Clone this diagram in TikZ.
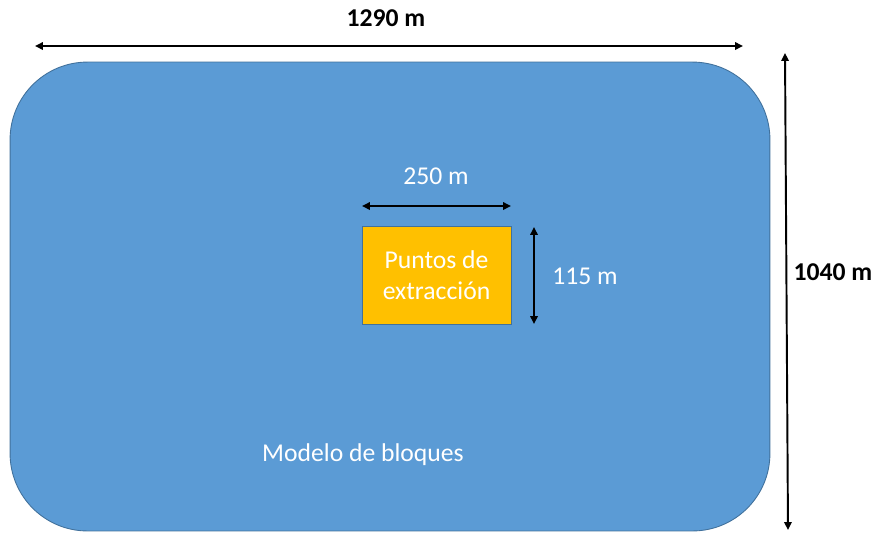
\documentclass[tikz,border=0pt]{standalone}
\usepackage{fontspec}
\setmainfont{Carlito}
\usetikzlibrary{positioning,arrows.meta}
\definecolor{modelblue}{RGB}{91,155,213}
\definecolor{modeledge}{RGB}{65,113,156}
\definecolor{puntosorange}{RGB}{255,192,0}

\begin{document}
\begin{tikzpicture}[
    x=0.02cm, y=-0.02cm,
    modelbox/.style={rectangle, rounded corners=1.55cm, fill=modelblue, draw=modeledge, line width=0.5pt, minimum width=15.2cm, minimum height=9.38cm},
    puntosbox/.style={rectangle, fill=puntosorange, draw=modeledge, line width=0.4pt, minimum width=2.98cm, minimum height=1.96cm, align=center, text=white, font=\fontsize{14.6}{17.8}\selectfont},
    dimline/.style={{Triangle[length=4.5pt,width=4.2pt]}-{Triangle[length=4.5pt,width=4.2pt]}, line width=1.1pt, black},
    label/.style={font=\fontsize{14.6}{17.5}\selectfont},
    biglabel/.style={font=\fontsize{14.6}{17.5}\selectfont\bfseries}
]
\useasboundingbox (0,0) rectangle (875,532);

% Block model and extraction area
\node[modelbox] (modelo) at (390,296.5) {};
\node[puntosbox] (puntos) at (436.5,275) {Puntos de\\extracción};
\node[label, text=white] (modelotxt) at (363,455) {Modelo de bloques};

% Outer dimensions
\coordinate (w1) at (35,46);
\coordinate (w2) at (743,46);
\coordinate (h1) at (785,53);
\coordinate (h2) at (788,530);
\draw[dimline] (w1) -- (w2);
\draw[dimline] (h1) -- (h2);
\node[biglabel] (anchotxt) at (386,18) {1290 m};
\node[biglabel] (altotxt) at (833,272) {1040 m};

% Inner dimensions
\coordinate (a1) at (362,206);
\coordinate (a2) at (511,206);
\coordinate (b1) at (534,227);
\coordinate (b2) at (534,324);
\draw[dimline] (a1) -- (a2);
\draw[dimline] (b1) -- (b2);
\node[label, text=white] (puntosw) at (436,176) {250 m};
\node[label, text=white] (puntosh) at (585,276) {115 m};

\end{tikzpicture}
\end{document}
